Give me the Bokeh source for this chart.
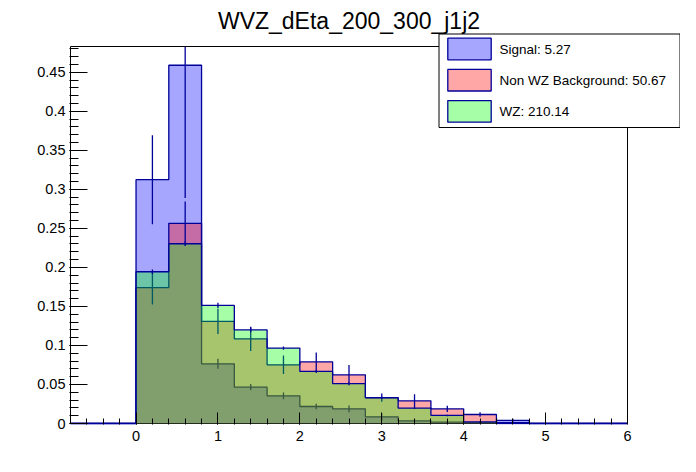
from bokeh.plotting import figure
from bokeh.models import Range1d, FixedTicker, CustomJSTickFormatter
from bokeh.core.properties import value
from bokeh.embed import file_html
from bokeh.resources import INLINE

# ---- data ----
bin_edges = [-0.8, -0.4, 0.0, 0.4, 0.8, 1.2, 1.6, 2.0, 2.4, 2.8, 3.2,
             3.6, 4.0, 4.4, 4.8, 5.2, 5.6, 6.0]
signal = [0, 0, 0.3124, 0.4590, 0.0765, 0.0466, 0.0355, 0.0218, 0.0188,
          0.0085, 0.0034, 0.0017, 0.0010, 0.0040, 0, 0, 0]
signal_err = [0, 0, 0.057, 0.170, 0.0065, 0.004, 0.0043, 0.0035, 0.0043,
              0.0047, 0.002, 0.001, 0.001, 0.002, 0, 0, 0]
non_wz = [0, 0, 0.1740, 0.2564, 0.1308, 0.1085, 0.0752, 0.0790, 0.0624,
          0.0332, 0.0290, 0.0188, 0.0115, 0.0010, 0, 0, 0]
non_wz_err = [0, 0, 0.0215, 0.028, 0.016, 0.0155, 0.0118, 0.012, 0.0124,
              0.0053, 0.0085, 0.004, 0.0028, 0.001, 0, 0, 0]
wz = [0, 0, 0.1944, 0.2303, 0.1513, 0.1200, 0.0966, 0.0667, 0.0510,
      0.0328, 0.0197, 0.0103, 0.0022, 0, 0, 0, 0]
wz_err = [0, 0, 0.003, 0.003, 0.0035, 0.003, 0.002, 0.002, 0.002,
          0.0015, 0.001, 0.001, 0.001, 0, 0, 0, 0]
legend_labels = ["Signal: 5.27", "Non WZ Background: 50.67", "WZ: 210.14"]
title_text = "WVZ_dEta_200_300_j1j2"
x_major_ticks = [0, 1, 2, 3, 4, 5, 6]
y_major_ticks = [0, 0.05, 0.1, 0.15, 0.2, 0.25, 0.3, 0.35, 0.4, 0.45]

FONT = "Liberation Sans"
NAVY = "#000099"
LW = 1.3
X_MIN, X_MAX = -0.8, 6.0
Y_MIN, Y_MAX = 0.0, 0.483

# pixel geometry of the visible axes box (page pixels)
BOX_L, BOX_R, BOX_T, BOX_B = 70, 627, 46, 423
PXU_X = (BOX_R - BOX_L) / (X_MAX - X_MIN)
PXU_Y = (BOX_B - BOX_T) / (Y_MAX - Y_MIN)


def X(px):
    return X_MIN + (px - BOX_L) / PXU_X


def Y(py):
    return Y_MIN + (BOX_B - py) / PXU_Y


# the Bokeh frame covers the whole drawing area so nothing gets clipped
FR_L, FR_R, FR_T, FR_B = 69, 680, 0, 424
W, H = 680, 456

p = figure(width=W, height=H, frame_width=FR_R - FR_L, frame_height=FR_B - FR_T,
           min_border_left=FR_L, min_border_right=W - FR_R, min_border_top=FR_T,
           min_border_bottom=H - FR_B, output_backend="svg",
           toolbar_location=None,
           x_range=Range1d(X(FR_L), X(FR_R)), y_range=Range1d(Y(FR_B), Y(FR_T)))
p.background_fill_color = "white"
p.border_fill_color = "white"
p.xgrid.visible = False
p.ygrid.visible = False
p.outline_line_color = None

# bottom axis line (black) under the histograms
p.line(x=[X_MIN, X_MAX], y=[Y_MIN, Y_MIN], line_color="black", line_width=1)

centers = [(a + b) / 2 for a, b in zip(bin_edges[:-1], bin_edges[1:])]
series = [
    (signal, signal_err, (0, 0, 255)),
    (non_wz, non_wz_err, (255, 0, 0)),
    (wz, wz_err, (0, 255, 0)),
]
for vals, errs, col in series:
    yv = list(vals) + [vals[-1]]
    p.varea_step(x=bin_edges, y1=[0] * len(bin_edges), y2=yv, step_mode="after",
                 fill_color=col, fill_alpha=0.35)
    p.step(x=bin_edges, y=yv, mode="after", line_color=NAVY, line_width=LW)
    lo = [max(v - e, Y_MIN) for v, e in zip(vals, errs)]
    hi = [min(v + e, Y_MAX) for v, e in zip(vals, errs)]
    p.segment(x0=centers, y0=lo, x1=centers, y1=hi, line_color=NAVY,
              line_width=LW)

# frame edges: left, top, right
p.line(x=[X_MIN, X_MIN, X_MAX, X_MAX], y=[Y_MIN, Y_MAX, Y_MAX, Y_MIN],
       line_color="black", line_width=1)

# axes
xa = p.xaxis[0]
xa.ticker = FixedTicker(ticks=x_major_ticks,
                        minor_ticks=[round(-0.6 + 0.2 * i, 1) for i in range(33)])
xa.axis_line_color = None
xa.major_tick_in = 12
xa.major_tick_out = 0
xa.minor_tick_in = 6
xa.minor_tick_out = 0
xa.major_tick_line_color = "black"
xa.minor_tick_line_color = "black"
xa.major_label_text_font = FONT
xa.major_label_text_font_size = "14.5px"
xa.major_label_text_color = "black"
xa.major_label_standoff = 6

ya = p.yaxis[0]
ya.ticker = FixedTicker(ticks=y_major_ticks,
                        minor_ticks=[round(0.01 * i, 2) for i in range(49)])
ya.formatter = CustomJSTickFormatter(
    code="return (Math.round(tick*100)/100).toString();")
ya.axis_line_color = None
ya.major_tick_in = 18
ya.major_tick_out = 0
ya.minor_tick_in = 9
ya.minor_tick_out = 0
ya.major_tick_line_color = "black"
ya.minor_tick_line_color = "black"
ya.major_label_text_font = FONT
ya.major_label_text_font_size = "14.5px"
ya.major_label_text_color = "black"
ya.major_label_standoff = 4

# title
p.text(x=[X((BOX_L + BOX_R) / 2)], y=[Y(20.7)], text=[title_text],
       text_font=value(FONT), text_font_size="23px", text_color="black",
       text_align="center", text_baseline="alphabetic")

# legend (drawn by hand so it can stick out of the axes box)
p.quad(left=[X(438.5)], right=[X(679.5)], top=[Y(33.5)], bottom=[Y(127)],
       fill_color="white", line_color="black", line_width=1)
row_pitch = 31.2
for i, ((vals, errs, col), lab) in enumerate(zip(series, legend_labels)):
    cy = 48.5 + row_pitch * i
    p.quad(left=[X(447.3)], right=[X(490.7)], top=[Y(cy - 10.8)],
           bottom=[Y(cy + 10.8)], fill_color=col, fill_alpha=0.35,
           line_color=NAVY, line_width=LW)
    p.text(x=[X(499)], y=[Y(cy)], text=[lab], text_font=value(FONT),
           text_font_size="13.5px", text_color="black", text_align="left",
           text_baseline="middle")

open("out.html", "w").write(file_html(p, INLINE))
